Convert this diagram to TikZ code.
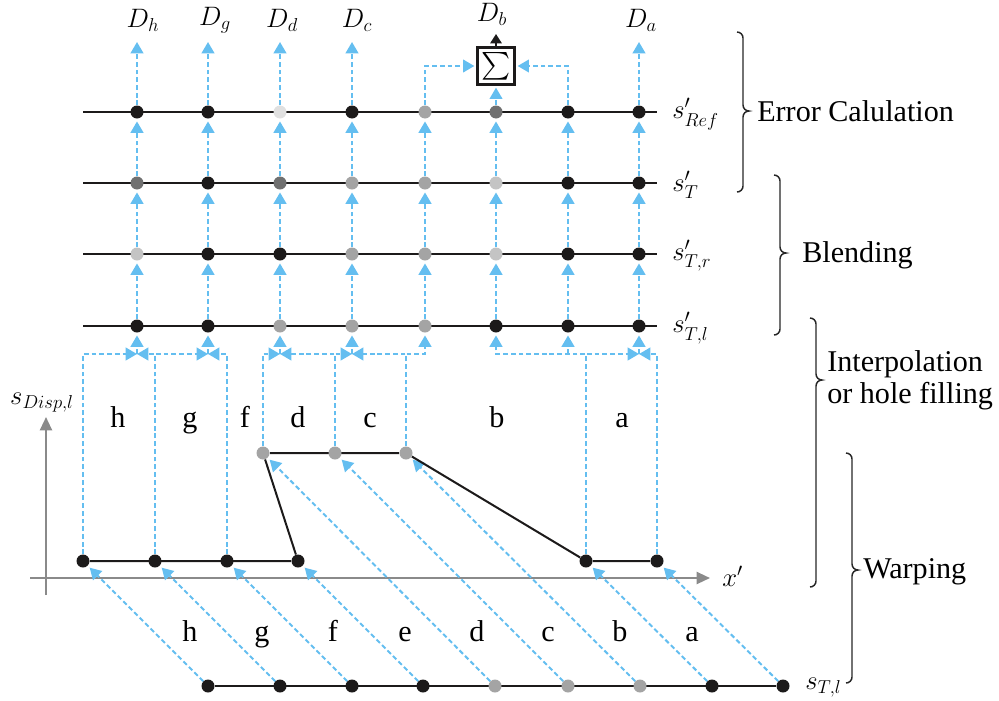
\RequirePackage{fix-cm}
\documentclass[tikz,border=0pt]{standalone}
\usepackage{amsmath}
\usepackage{fontspec}
\setmainfont{Liberation Serif}
\usetikzlibrary{arrows.meta}
\definecolor{skyb}{RGB}{100,190,240}
\definecolor{dotk}{RGB}{28,26,26}
\definecolor{dotdg}{RGB}{112,112,112}
\definecolor{dotg}{RGB}{164,164,164}
\definecolor{dotlg}{RGB}{196,196,196}
\definecolor{dotvl}{RGB}{224,224,224}
\definecolor{axg}{RGB}{138,138,138}
\pgfdeclarelayer{bg}\pgfdeclarelayer{mid}\pgfsetlayers{bg,mid,main}
\newcommand\mybrace[4]{%
 \draw[brace] (#1-6,#2) to[out=0,in=90] (#1,#2+6) -- (#1,#3-6) to[out=-90,in=180] (#1+6,#3) to[out=180,in=90] (#1,#3+6) -- (#1,#4-6) to[out=-90,in=0] (#1-6,#4);}
\begin{document}
\begin{tikzpicture}[x=0.75pt,y=-0.75pt,
 mfont/.style={font=\fontsize{20}{24}\selectfont},
 tfont/.style={font=\fontsize{22.6}{27}\selectfont},
 dot/.style={circle,inner sep=0pt,minimum size=9.75pt,fill=#1},
 bl/.style={draw=skyb,line width=1.5pt,dash pattern=on 3.6pt off 2.2pt,-{Triangle[length=8.5pt,width=9.5pt]}},
 bld/.style={bl,shorten >=2pt},
 blk/.style={draw=dotk,line width=1.5pt},
 axis/.style={draw=axg,line width=1.6pt,-{Triangle[length=10pt,width=9pt]}},
 brace/.style={draw=black!85,line width=1.1pt},
 ]
\useasboundingbox (0,0) rectangle (999,700);

% ---- rows of dots
\foreach \x/\c [count=\i] in {137/dotk,208/dotk,280/dotvl,352/dotk,425/dotg,496/dotdg,568/dotk,639/dotk}
  \node[dot=\c] (ref\i) at (\x,112) {};
\foreach \x/\c [count=\i] in {137/dotdg,208/dotk,280/dotdg,352/dotg,425/dotg,496/dotlg,568/dotk,639/dotk}
  \node[dot=\c] (t\i) at (\x,183) {};
\foreach \x/\c [count=\i] in {137/dotlg,208/dotk,280/dotk,352/dotg,425/dotg,496/dotlg,568/dotk,639/dotk}
  \node[dot=\c] (tr\i) at (\x,254) {};
\foreach \x/\c [count=\i] in {137/dotk,208/dotk,280/dotg,352/dotg,425/dotg,496/dotk,568/dotk,639/dotk}
  \node[dot=\c] (tl\i) at (\x,326) {};

% warped dots
\foreach \x [count=\i] in {83,155,227,298}
  \node[dot=dotk] (w\i) at (\x,561) {};
\node[dot=dotk] (w5) at (586,561) {};
\node[dot=dotk] (w6) at (657,561) {};
\foreach \x [count=\i] in {263,335,406}
  \node[dot=dotg] (u\i) at (\x,453) {};

% bottom dots
\foreach \x/\c [count=\i] in {208/dotk,280/dotk,352/dotk,423/dotk,495/dotg,568/dotg,640/dotg,712/dotk,783/dotk}
  \node[dot=\c] (b\i) at (\x,686) {};

% sum box
\node[draw=dotk,line width=1.7pt,minimum size=27.75pt,inner sep=0pt,fill=white,mfont] (sum) at (496,66) {$\sum$};

% coordinates
\coordinate (rowL1) at (83,112); \coordinate (rowR1) at (657,112);
\coordinate (rowL2) at (83,183); \coordinate (rowR2) at (657,183);
\coordinate (rowL3) at (83,254); \coordinate (rowR3) at (657,254);
\coordinate (rowL4) at (83,326); \coordinate (rowR4) at (657,326);
\coordinate (j1) at (137,354); \coordinate (j2) at (208,354);
\coordinate (j3) at (280,354); \coordinate (j4) at (352,354);
\coordinate (k5) at (425,354); \coordinate (k6) at (496,354);
\coordinate (k7) at (568,354); \coordinate (j8) at (639,354);
\coordinate (yax0) at (46,595); \coordinate (yax1) at (46,417);
\coordinate (xax0) at (30,578); \coordinate (xax1) at (710,578);
\coordinate (dbt) at (496,34);

\begin{pgfonlayer}{bg}
 \draw[axis] (yax0) -- (yax1);
 \draw[axis] (xax0) -- (xax1);
 % vertical flows between rows
 \foreach \i in {1,...,8} {
   \draw[bld] (tl\i) -- (tr\i);
   \draw[bld] (tr\i) -- (t\i);
   \draw[bld] (t\i) -- (ref\i);
 }
 \foreach \i/\x in {1/137,2/208,3/280,4/352,8/639} {
   \coordinate (top\i) at (\x,42);
   \draw[bl] (ref\i) -- (top\i);
 }
 \draw[bl,shorten >=1.5pt] (ref5) |- (sum);
 \draw[bl,shorten >=1.5pt] (ref6) -- (sum);
 \draw[bl,shorten >=1.5pt] (ref7) |- (sum);
 % interpolation
 \draw[bl] (w1) |- (j1);
 \draw[bl] (w2) |- (j1);
 \draw[bl] (w2) |- (j2);
 \draw[bl] (w3) |- (j2);
 \draw[bl] (u1) |- (j3);
 \draw[bl] (u2) |- (j3);
 \draw[bl] (u2) |- (j4);
 \draw[bl] (u3) |- (j4);
 \draw[bld] (u3) |- (k5) -- (tl5);
 \draw[bld] (w5) |- (k6) -- (tl6);
 \draw[bld] (k7) -- (tl7);
 \draw[bl] (w5) |- (j8);
 \draw[bl] (w6) |- (j8);
 \foreach \i in {1,2,3,4,8} \draw[bld] (j\i) -- (tl\i);
 % warping
 \draw[bld] (b1) -- (w1);
 \draw[bld] (b2) -- (w2);
 \draw[bld] (b3) -- (w3);
 \draw[bld] (b4) -- (w4);
 \draw[bld] (b5) -- (u1);
 \draw[bld] (b6) -- (u2);
 \draw[bld] (b7) -- (u3);
 \draw[bld] (b8) -- (w5);
 \draw[bld] (b9) -- (w6);
\end{pgfonlayer}

\begin{pgfonlayer}{mid}
 \foreach \r in {1,...,4} \draw[blk] (rowL\r) -- (rowR\r);
 \draw[blk] (w1) -- (w4) -- (u1) -- (u3) -- (w5) -- (w6);
 \draw[blk] (b1) -- (b9);
\end{pgfonlayer}

\draw[line width=1.5pt,dotk,-{Triangle[length=7pt,width=8.5pt]}] (sum) -- (dbt);

% top labels
\node[mfont] (Dh) at (143,20) {$D_h$};
\node[mfont] (Dg) at (215,20) {$D_g$};
\node[mfont] (Dd) at (282,20) {$D_d$};
\node[mfont] (Dc) at (357,20) {$D_c$};
\node[mfont,inner sep=1pt] (Db) at (492,14) {$D_b$};
\node[mfont] (Da) at (641,20) {$D_a$};

% row labels
\node[mfont,anchor=west,inner sep=0pt] (lref) at (672,114) {$s'_{Ref}$};
\node[mfont,anchor=west,inner sep=0pt] (lt) at (672,185) {$s'_{T}$};
\node[mfont,anchor=west,inner sep=0pt] (ltr) at (672,256) {$s'_{T,r}$};
\node[mfont,anchor=west,inner sep=0pt] (ltl) at (672,328) {$s'_{T,l}$};
\node[mfont,anchor=west,inner sep=0pt] (lst) at (805,688) {$s_{T,l}$};
\node[mfont,anchor=west,inner sep=0pt] (lxp) at (722,576) {$x'$};
\node[mfont] (lsd) at (42,403) {$s_{Disp,l}$};

% segment labels (interpolation zone)
\foreach \x/\t [count=\i] in {118/h,190/g,245/f,298/d,370/c,497/b,622/a}
  \node[tfont,anchor=base] (ia\i) at (\x,427) {\t};
% segment labels (warping zone)
\foreach \x/\t [count=\i] in {190/h,262/g,333/f,405/e,477/d,548/c,620/b,692/a}
  \node[tfont,anchor=base] (wa\i) at (\x,641) {\t};

% braces and stage names
\mybrace{743}{32}{111}{192}
\mybrace{780}{175}{253}{335}
\mybrace{816}{318}{380}{587}
\mybrace{852}{453}{570}{683}
\node[tfont,anchor=west,inner sep=0pt] (ec) at (757,111) {Error Calulation};
\node[tfont,anchor=west,inner sep=0pt] (bd) at (802,255) {Blending};
\node[tfont,anchor=west,inner sep=0pt,align=left] (ip) at (827,380) {Interpolation\\[-3pt]or hole filling};
\node[tfont,anchor=west,inner sep=0pt] (wp) at (863,572) {Warping};
\end{tikzpicture}
\end{document}
